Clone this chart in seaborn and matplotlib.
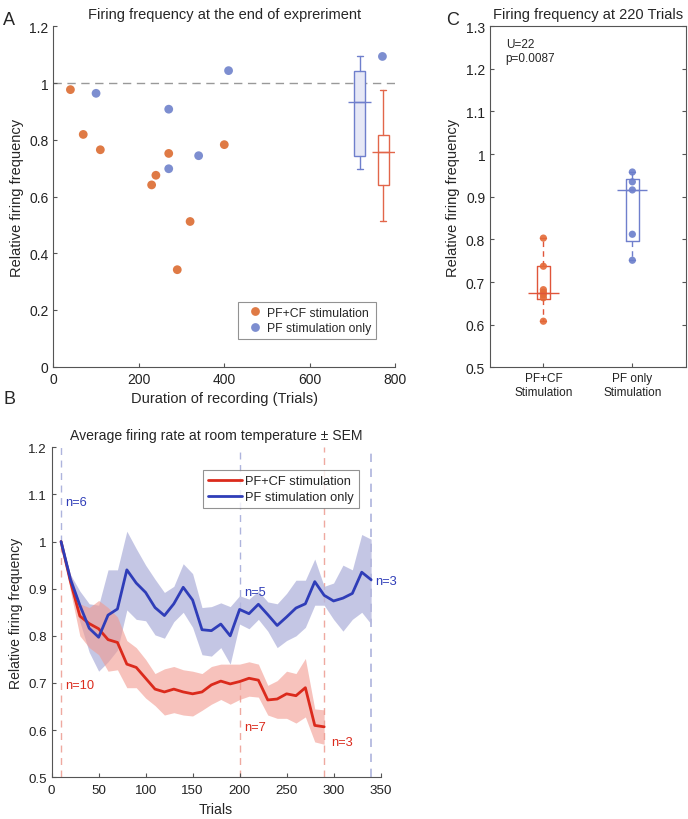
import numpy as np
import pandas as pd
import matplotlib
matplotlib.use("Agg")
import matplotlib.pyplot as plt
from matplotlib import font_manager
from matplotlib.ticker import FormatStrFormatter
import seaborn as sns

# ---- data: panel A (end of experiment) ----
pfcf_trials = [40, 70, 110, 230, 240, 270, 320, 290, 400]
pfcf_freq = [0.977, 0.819, 0.765, 0.641, 0.675, 0.752, 0.512, 0.342, 0.783]
pf_trials = [100, 270, 270, 340, 410, 770]
pf_freq = [0.964, 0.908, 0.698, 0.744, 1.044, 1.094]
# box summaries: whislo, q1, med, q3, whishi
box_a_pf = [0.698, 0.743, 0.934, 1.043, 1.094]
box_a_pfcf = [0.512, 0.640, 0.758, 0.818, 0.976]

# ---- data: panel B (average firing rate +- SEM) ----
trials_pfcf = list(range(10, 300, 10))
mean_pfcf = [1.0, 0.915, 0.842, 0.826, 0.815, 0.792, 0.786, 0.740, 0.733, 0.710,
             0.687, 0.681, 0.687, 0.681, 0.677, 0.681, 0.696, 0.704, 0.698, 0.703,
             0.710, 0.706, 0.664, 0.666, 0.677, 0.673, 0.690, 0.610, 0.607]
upper_pfcf = [1.0, 0.930, 0.868, 0.860, 0.875, 0.860, 0.840, 0.790, 0.775, 0.750,
              0.720, 0.730, 0.735, 0.728, 0.725, 0.720, 0.735, 0.740, 0.740, 0.740,
              0.745, 0.740, 0.695, 0.705, 0.725, 0.720, 0.752, 0.645, 0.643]
lower_pfcf = [1.0, 0.895, 0.800, 0.775, 0.760, 0.725, 0.728, 0.690, 0.690, 0.668,
              0.652, 0.632, 0.637, 0.632, 0.630, 0.642, 0.655, 0.665, 0.655, 0.665,
              0.672, 0.670, 0.632, 0.625, 0.625, 0.615, 0.628, 0.575, 0.570]
trials_pf = list(range(10, 350, 10))
mean_pf = [1.0, 0.920, 0.865, 0.816, 0.797, 0.844, 0.857, 0.940, 0.912, 0.892,
           0.860, 0.843, 0.868, 0.903, 0.876, 0.813, 0.811, 0.825, 0.800, 0.856,
           0.847, 0.867, 0.845, 0.822, 0.840, 0.859, 0.868, 0.915, 0.886, 0.874,
           0.880, 0.890, 0.935, 0.919]
upper_pf = [1.0, 0.930, 0.895, 0.868, 0.865, 0.940, 0.940, 1.022, 0.985, 0.950,
            0.920, 0.892, 0.905, 0.953, 0.932, 0.860, 0.862, 0.870, 0.862, 0.885,
            0.878, 0.895, 0.872, 0.868, 0.890, 0.918, 0.918, 0.963, 0.905, 0.912,
            0.950, 0.940, 1.015, 1.005]
lower_pf = [1.0, 0.905, 0.830, 0.765, 0.725, 0.745, 0.770, 0.855, 0.835, 0.832,
            0.802, 0.795, 0.830, 0.850, 0.818, 0.760, 0.757, 0.775, 0.740, 0.825,
            0.815, 0.835, 0.810, 0.775, 0.790, 0.800, 0.818, 0.865, 0.865, 0.835,
            0.810, 0.835, 0.850, 0.825]

# ---- data: panel C (220 trials) ----
c_groups = ["PF+CF\nStimulation", "PF only\nStimulation"]
c_pfcf = [0.803, 0.737, 0.682, 0.676, 0.670, 0.663, 0.608]
c_pf = [0.958, 0.935, 0.916, 0.812, 0.751]
box_c_pfcf = [0.608, 0.660, 0.674, 0.737, 0.803]
box_c_pf = [0.751, 0.796, 0.915, 0.941, 0.958]

ORANGE = "#DF7A45"
BLUE_PT = "#7D8ED0"
RED = "#DB2A1C"
BLUE = "#2F3DB8"

sns.set_style("ticks")
plt.rcParams["font.family"] = ["Liberation Sans", "DejaVu Sans"]
plt.rcParams["xtick.direction"] = "in"
plt.rcParams["ytick.direction"] = "in"
plt.rcParams["axes.edgecolor"] = "#555555"
plt.rcParams["axes.linewidth"] = 0.8
plt.rcParams["xtick.color"] = "#555555"
plt.rcParams["ytick.color"] = "#555555"
plt.rcParams["xtick.labelcolor"] = "#222222"
plt.rcParams["ytick.labelcolor"] = "#222222"
plt.rcParams["xtick.major.size"] = 3
plt.rcParams["ytick.major.size"] = 3

# panel B text in the reference is horizontally squeezed: use a narrow face if present
names = {f.name for f in font_manager.fontManager.ttflist}
if "Liberation Sans Narrow" in names:
    NARROW = ["Liberation Sans Narrow", "DejaVu Sans"]
    nb = 1.0
else:
    NARROW = ["Liberation Sans", "DejaVu Sans"]
    nb = 0.88

fig = plt.figure(figsize=(6.88, 8.2), dpi=100)
ax_a = fig.add_axes([0.0775, 0.5516, 0.497, 0.415])
ax_c = fig.add_axes([0.7122, 0.5509, 0.2845, 0.4159])
ax_b = fig.add_axes([0.0751, 0.0509, 0.478, 0.4024])


def box_stats(v):
    return {"whislo": v[0], "q1": v[1], "med": v[2], "q3": v[3], "whishi": v[4], "fliers": []}


# ---------- Panel A ----------
df_a = pd.DataFrame({
    "trials": pfcf_trials + pf_trials,
    "freq": pfcf_freq + pf_freq,
    "group": ["PF+CF stimulation"] * len(pfcf_trials) + ["PF stimulation only"] * len(pf_trials),
})
ax_a.axhline(1.0, color="#999999", ls=(0, (6, 4)), lw=1, zorder=0)
sns.scatterplot(data=df_a, x="trials", y="freq", hue="group",
                palette={"PF+CF stimulation": ORANGE, "PF stimulation only": BLUE_PT},
                s=40, edgecolor="none", ax=ax_a, zorder=3)
for v, pos, col, face in [(box_a_pf, 717, "#6F7FCC", "#E6E8F6"), (box_a_pfcf, 772, "#E2664A", "white")]:
    ax_a.bxp([box_stats(v)], positions=[pos], widths=25, showfliers=False,
             patch_artist=True, manage_ticks=False,
             boxprops=dict(facecolor=face, edgecolor=col, lw=1),
             whiskerprops=dict(color=col, lw=1), capprops=dict(color=col, lw=1),
             medianprops=dict(color=col, lw=1), capwidths=14)
    ax_a.hlines(v[2], pos - 27, pos + 27, color=col, lw=1, zorder=4)
ax_a.set_xlim(0, 800)
ax_a.set_ylim(0, 1.2)
ax_a.set_xticks([0, 200, 400, 600, 800])
ax_a.set_yticks(np.arange(0, 1.21, 0.2))
ax_a.yaxis.set_major_formatter(FormatStrFormatter("%g"))
ax_a.tick_params(labelsize=10)
ax_a.set_xlabel("Duration of recording (Trials)", fontsize=10.5)
ax_a.set_ylabel("Relative firing frequency", fontsize=10.5)
ax_a.set_title("Firing frequency at the end of expreriment", fontsize=10.5, pad=6)
sns.despine(ax=ax_a)
leg = ax_a.legend(loc="lower right", bbox_to_anchor=(0.95, 0.075), fontsize=8.8,
                  frameon=True, fancybox=False, edgecolor="#777777", handletextpad=0.0,
                  borderpad=0.35, labelspacing=0.3, markerscale=1.0, borderaxespad=0.2)
leg.get_frame().set_linewidth(0.8)
fig.text(0.005, 0.985, "A", fontsize=13, va="top")

# ---------- Panel B ----------
df_b = pd.DataFrame({
    "trial": trials_pfcf + trials_pf,
    "freq": mean_pfcf + mean_pf,
    "group": ["PF+CF stimulation"] * len(trials_pfcf) + ["PF stimulation only"] * len(trials_pf),
})
ax_b.fill_between(trials_pf, lower_pf, upper_pf, color="#B6B8DE", alpha=0.8, lw=0, zorder=1)
ax_b.fill_between(trials_pfcf, lower_pfcf, upper_pfcf, color="#F29A90", alpha=0.6, lw=0, zorder=2)
sns.lineplot(data=df_b, x="trial", y="freq", hue="group",
             palette={"PF+CF stimulation": RED, "PF stimulation only": BLUE},
             lw=2, ax=ax_b, zorder=3)
dash = (0, (5, 4))
ax_b.vlines(10, 1.0, 1.2, color="#AEB4DD", ls=dash, lw=1, zorder=0)
ax_b.vlines(10, 0.5, 1.0, color="#EFA9A0", ls=dash, lw=1, zorder=0)
ax_b.vlines(200, mean_pf[19], 1.2, color="#AEB4DD", ls=dash, lw=1, zorder=0)
ax_b.vlines(200, 0.5, mean_pfcf[19], color="#EFA9A0", ls=dash, lw=1, zorder=0)
ax_b.vlines(290, 0.5, 1.2, color="#EFA9A0", ls=dash, lw=1, zorder=0)
ax_b.vlines(340, 0.5, 1.2, color="#AEB4DD", ls=dash, lw=1.2, zorder=0)
for x, y, t, c in [(14, 1.085, "n=6", BLUE), (14, 0.695, "n=10", RED),
                   (205, 0.892, "n=5", BLUE), (205, 0.607, "n=7", RED),
                   (297, 0.575, "n=3", RED), (344, 0.917, "n=3", BLUE)]:
    ax_b.text(x, y, t, color=c, fontsize=10.5 * nb, va="center", ha="left", family=NARROW)
ax_b.set_xlim(0, 350)
ax_b.set_ylim(0.5, 1.2)
ax_b.set_xticks(range(0, 351, 50))
ax_b.set_yticks(np.arange(0.5, 1.21, 0.1))
ax_b.yaxis.set_major_formatter(FormatStrFormatter("%g"))
ax_b.tick_params(labelsize=11 * nb)
ax_b.tick_params(axis="x", pad=5)
for lab in ax_b.get_xticklabels() + ax_b.get_yticklabels():
    lab.set_family(NARROW)
ax_b.set_xlabel("Trials", fontsize=11.5 * nb, family=NARROW)
ax_b.set_ylabel("Relative firing frequency", fontsize=11.5 * nb, family=NARROW)
ax_b.set_title("Average firing rate at room temperature \u00b1 SEM", fontsize=11.5 * nb,
               pad=6, family=NARROW)
sns.despine(ax=ax_b)
leg = ax_b.legend(loc="upper right", bbox_to_anchor=(0.955, 0.95),
                  frameon=True, fancybox=False, edgecolor="#777777", handlelength=2.6,
                  handletextpad=0.3, borderpad=0.4, labelspacing=0.3,
                  prop={"family": NARROW, "size": 10.5 * nb})
leg.get_frame().set_linewidth(0.8)
fig.text(0.005, 0.523, "B", fontsize=13, va="top")

# ---------- Panel C ----------
df_c = pd.DataFrame({
    "group": [c_groups[0]] * len(c_pfcf) + [c_groups[1]] * len(c_pf),
    "freq": c_pfcf + c_pf,
})
for v, pos, col in [(box_c_pfcf, 0, "#E0553A"), (box_c_pf, 1, "#6F7FCC")]:
    ax_c.bxp([box_stats(v)], positions=[pos], widths=0.14, showfliers=False,
             manage_ticks=False,
             boxprops=dict(color=col, lw=1),
             whiskerprops=dict(color=col, lw=1, ls=(0, (4, 3))), capprops=dict(color=col, lw=1),
             medianprops=dict(color=col, lw=1), capwidths=0.07)
    ax_c.hlines(v[2], pos - 0.17, pos + 0.17, color=col, lw=1, zorder=4)
sns.stripplot(data=df_c, x="group", y="freq", hue="group", jitter=False,
              palette={c_groups[0]: "#E46A38", c_groups[1]: "#6B7ECB"},
              size=5.2, alpha=0.9, legend=False, ax=ax_c, zorder=3)
ax_c.set_xlim(-0.6, 1.6)
ax_c.set_ylim(0.5, 1.3)
ax_c.set_yticks(np.arange(0.5, 1.31, 0.1))
ax_c.yaxis.set_major_formatter(FormatStrFormatter("%g"))
ax_c.tick_params(axis="y", labelsize=10, right=True)
ax_c.tick_params(axis="x", labelsize=8.5, top=False)
ax_c.set_xlabel("")
ax_c.set_ylabel("Relative firing frequency", fontsize=10.5)
ax_c.set_title("Firing frequency at 220 Trials", fontsize=10.5, pad=6)
ax_c.text(0.08, 0.965, "U=22\np=0.0087", transform=ax_c.transAxes, fontsize=8.5,
          va="top", ha="left", linespacing=1.2)
fig.text(0.648, 0.985, "C", fontsize=13, va="top")

fig.savefig("out.png", dpi=100)
